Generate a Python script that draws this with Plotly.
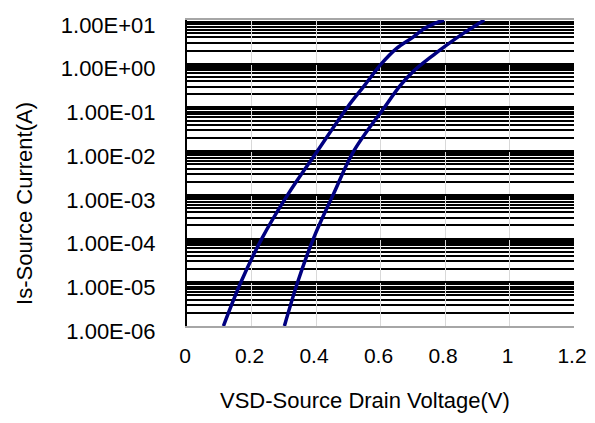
import plotly.graph_objects as go

# Data
vsd_curve1 = [0.113, 0.167, 0.232, 0.312, 0.404, 0.497, 0.550, 0.603, 0.650, 0.700, 0.735, 0.778, 0.797]
is_curve1 = [1e-6, 1e-5, 1e-4, 1e-3, 1e-2, 1e-1, 0.316, 1e0, 2.24, 4.0, 6.3, 8.9, 10.0]

vsd_curve2 = [0.302, 0.343, 0.392, 0.453, 0.517, 0.612, 0.661, 0.701, 0.764, 0.806, 0.858, 0.922]
is_curve2 = [1e-6, 1e-5, 1e-4, 1e-3, 1e-2, 1e-1, 0.316, 0.66, 1.58, 2.7, 5.0, 10.0]

y_decades = [1e-6, 1e-5, 1e-4, 1e-3, 1e-2, 1e-1, 1e0, 1e1]
y_ticktext = ["1.00E-06", "1.00E-05", "1.00E-04", "1.00E-03",
              "1.00E-02", "1.00E-01", "1.00E+00", "1.00E+01"]
mantissas = [2, 3, 4, 5, 6, 7, 8, 9]
y_minor = [m * d for d in y_decades[:-1] for m in mantissas]

x_title = "VSD-Source Drain Voltage(V)"
y_title = "Is-Source Current(A)"

FONT = "Liberation Sans, Arial, sans-serif"
NAVY = "#000080"

fig = go.Figure()
for xs, ys in [(vsd_curve1, is_curve1), (vsd_curve2, is_curve2)]:
    fig.add_trace(go.Scatter(x=xs, y=ys, mode="lines",
                             line=dict(color=NAVY, width=3.5, shape="spline", smoothing=1.0),
                             showlegend=False, cliponaxis=True))

# the page body has an 8px margin, so the figure is sized/offset to compensate
fig.update_layout(
    width=587, height=415,
    margin=dict(l=179, r=21, t=12, b=97),
    paper_bgcolor="white", plot_bgcolor="white",
    font=dict(family=FONT, size=22, color="black"),
    xaxis=dict(range=[0, 1.2], dtick=0.2, tick0=0, showgrid=True, automargin=False,
               gridcolor="#d9d9d9", gridwidth=1, zeroline=False,
               showline=True, linecolor="#a6a6a6", linewidth=1.5, mirror=True,
               ticks="", ticklabelstandoff=10, ticklabelshift=-2,
               tickfont=dict(family=FONT, size=21)),
    yaxis=dict(type="log", range=[-6, 1], tickvals=y_decades, ticktext=y_ticktext,
               automargin=False,
               showgrid=True, gridcolor="black", gridwidth=1.5,
               minor=dict(tickvals=y_minor, showgrid=True, gridcolor="black", gridwidth=1.5, ticks=""),
               zeroline=False, showline=True, linecolor="black", linewidth=2,
               ticks="", ticklabelstandoff=25, ticklabelshift=5,
               tickfont=dict(family=FONT, size=22)),
    annotations=[
        dict(text=x_title, xref="paper", yref="paper", x=0.46, y=-0.244,
             showarrow=False, xanchor="center", yanchor="middle",
             font=dict(family=FONT, size=22)),
        dict(text=y_title, xref="paper", yref="paper", x=-0.4186, y=0.399,
             showarrow=False, xanchor="center", yanchor="middle", textangle=-90,
             font=dict(family=FONT, size=22)),
    ],
)

fig.write_html("out.html")
